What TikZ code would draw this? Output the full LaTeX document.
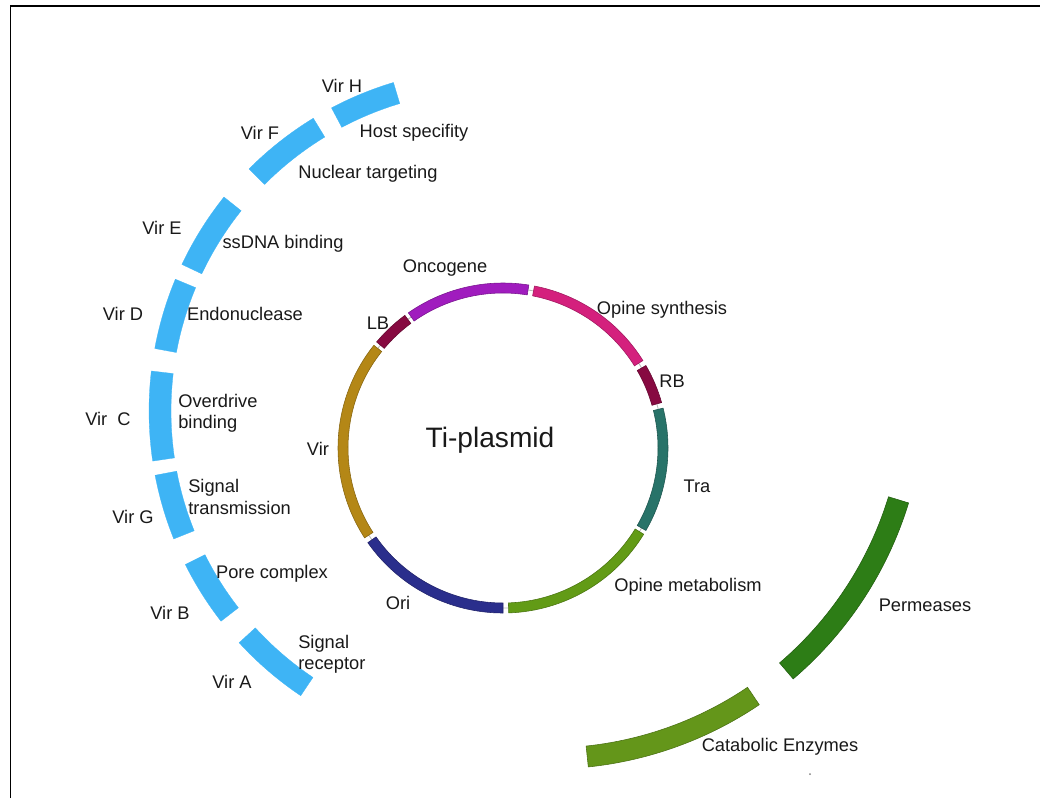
\documentclass[tikz,border=0pt]{standalone}
\usepackage{fontspec}
\setmainfont{Liberation Sans}

\definecolor{virblue}{RGB}{62,180,245}
\definecolor{oncopurple}{RGB}{160,28,190}
\definecolor{bordermaroon}{RGB}{135,10,65}
\definecolor{virgold}{RGB}{180,135,22}
\definecolor{orinavy}{RGB}{42,46,140}
\definecolor{metgreen}{RGB}{98,155,22}
\definecolor{trateal}{RGB}{40,115,105}
\definecolor{synmagenta}{RGB}{212,32,125}
\definecolor{permgreen}{RGB}{45,125,22}
\definecolor{catgreen}{RGB}{100,150,26}

\begin{document}
\begin{tikzpicture}[x=0.025cm, y=0.025cm,
        band/.style={fill=#1, draw=#1!75!black, line width=0.4pt},
        virband/.style={fill=virblue, draw=virblue, line width=0.2pt}]
    \useasboundingbox (0,0) rectangle (1040,-798);
    \draw[line width=1.4pt] (10.5,-798) -- (10.5,-6) -- (1040,-6);

    % vir genes
    \begin{scope}[shift={(492,-411)}]
        \filldraw[virband] (106.7:321) arc (106.7:117.9:321) -- (117.9:343) arc (117.9:106.7:343) -- cycle;
        \filldraw[virband] (121.4:321) arc (121.4:135.1:321) -- (135.1:343) arc (135.1:121.4:343) -- cycle;
        \filldraw[virband] (141.4:321) arc (141.4:154.7:321) -- (154.7:343) arc (154.7:141.4:343) -- cycle;
        \filldraw[virband] (157.4:321) arc (157.4:169.5:321) -- (169.5:343) arc (169.5:157.4:343) -- cycle;
        \filldraw[virband] (173.3:321) arc (173.3:188.4:321) -- (188.4:343) arc (188.4:173.3:343) -- cycle;
        \filldraw[virband] (190.8:321) arc (190.8:201.9:321) -- (201.9:343) arc (201.9:190.8:343) -- cycle;
        \filldraw[virband] (206.6:321) arc (206.6:217.8:321) -- (217.8:343) arc (217.8:206.6:343) -- cycle;
        \filldraw[virband] (222.5:321) arc (222.5:236.1:321) -- (236.1:343) arc (236.1:222.5:343) -- cycle;
    \end{scope}

    % plasmid ring
    \begin{scope}[shift={(503,-448)}]
        \draw[gray!55, line width=0.6pt] (0,0) circle (160);
        \filldraw[band=oncopurple] (81:155) arc (81:125:155) -- (125:165) arc (125:81:165) -- cycle;
        \filldraw[band=bordermaroon] (126.5:155) arc (126.5:140:155) -- (140:165) arc (140:126.5:165) -- cycle;
        \filldraw[band=virgold] (141.5:155) arc (141.5:213:155) -- (213:165) arc (213:141.5:165) -- cycle;
        \filldraw[band=orinavy] (215:155) arc (215:270:155) -- (270:165) arc (270:215:165) -- cycle;
        \filldraw[band=metgreen] (272:155) arc (272:328.5:155) -- (328.5:165) arc (328.5:272:165) -- cycle;
        \filldraw[band=trateal] (330:155) arc (330:374:155) -- (374:165) arc (374:330:165) -- cycle;
        \filldraw[band=bordermaroon] (16:155) arc (16:30:155) -- (30:165) arc (30:16:165) -- cycle;
        \filldraw[band=synmagenta] (32:155) arc (32:79:155) -- (79:165) arc (79:32:165) -- cycle;
    \end{scope}

    % opine catabolism
    \begin{scope}[shift={(549,-393)}]
        \filldraw[band=permgreen] (-49.5:355) arc (-49.5:-17:355) -- (-17:376) arc (-17:-49.5:376) -- cycle;
        \filldraw[band=catgreen] (-84:355) arc (-84:-56:355) -- (-56:376) arc (-56:-84:376) -- cycle;
    \end{scope}
    \fill[gray] (810,-774) circle (1);

    \begin{scope}[every node/.style={inner sep=0pt, text=black!90, font=\fontsize{13}{15}\selectfont}]
        \node (virH) at (342,-86) {Vir H};
        \node (host) at (414,-133) {Host specifity};
        \node (virF) at (260,-133) {Vir F};
        \node (nuclear) at (368,-174) {Nuclear targeting};
        \node (virE) at (162,-228) {Vir E};
        \node (ssdna) at (283,-244) {ssDNA binding};
        \node (virD) at (123,-314) {Vir D};
        \node (endo) at (245,-314) {Endonuclease};
        \node (virC) at (108,-419) {Vir\ \ C};
        \node[anchor=west, align=left] (overdrive) at (178,-413) {Overdrive\\binding};
        \node (virG) at (133,-517) {Vir G};
        \node[anchor=west, align=left] (sigtrans) at (188,-497) {Signal\\transmission};
        \node (virB) at (170,-613) {Vir B};
        \node (pore) at (272,-574) {Pore complex};
        \node (virA) at (232,-682) {Vir A};
        \node[anchor=west, align=left] (sigrec) at (298,-654) {Signal\\receptor};

        \node (onco) at (445,-268) {Oncogene};
        \node (opsyn) at (662,-310) {Opine synthesis};
        \node (lb) at (378,-323) {LB};
        \node (rb) at (672,-381) {RB};
        \node (tra) at (697,-486) {Tra};
        \node (opmet) at (688,-587) {Opine metabolism};
        \node (ori) at (398,-603) {Ori};
        \node (vir) at (318,-449) {Vir};
        \node[font=\fontsize{20}{24}\selectfont] (ti) at (490,-440) {Ti-plasmid};

        \node (perm) at (925,-605) {Permeases};
        \node (cat) at (780,-747) {Catabolic Enzymes};
    \end{scope}
\end{tikzpicture}
\end{document}
